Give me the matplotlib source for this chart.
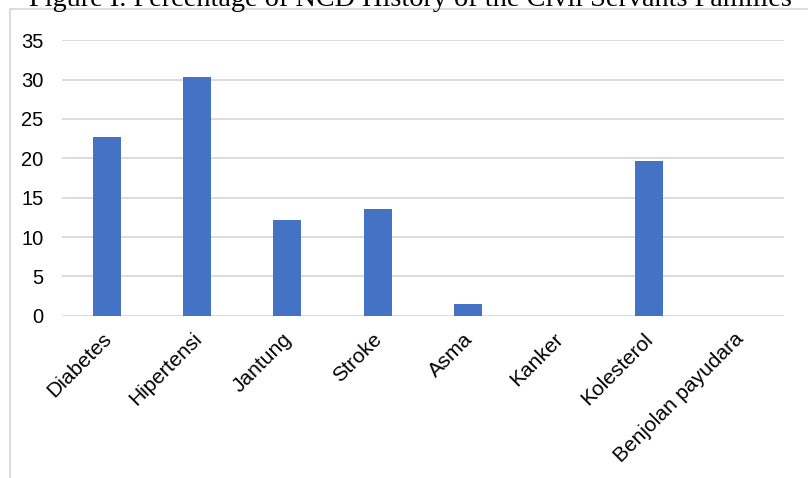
import numpy as np
import matplotlib
matplotlib.use("Agg")
import matplotlib.pyplot as plt
from matplotlib.patches import Rectangle
from matplotlib.transforms import ScaledTranslation

# data
categories = ["Diabetes", "Hipertensi", "Jantung", "Stroke", "Asma",
              "Kanker", "Kolesterol", "Benjolan payudara"]
values = [22.7, 30.3, 12.1, 13.6, 1.5, 0, 19.7, 0]
y_ticks = [0, 5, 10, 15, 20, 25, 30, 35]
title = "Figure I. Percentage of NCD History of the Civil Servants Families"

W, H = 808, 478
fig = plt.figure(figsize=(W / 100, H / 100), dpi=100)
fig.patch.set_facecolor("white")

# outer chart frame, cut off on the right and bottom
fig.patches.append(Rectangle((10 / W, -0.5), 1.5, 1.5 - 9 / H, transform=fig.transFigure,
                             fill=False, edgecolor="#d9d9d9", linewidth=1.3))

fig.text(29 / W, 1 - 6.5 / H, title, family="Liberation Serif", fontsize=20.3,
         ha="left", va="baseline", color="black")

ax = fig.add_axes([61.5 / W, 1 - 315.7 / H, (784 - 61.5) / W, (315.7 - 40.3) / H])
x = np.arange(len(categories))
ax.bar(x, values, width=0.31, color="#4472C4", zorder=3)

ax.set_xlim(-0.5, len(categories) - 0.5)
ax.set_ylim(0, 35)
ax.set_yticks(y_ticks)
ax.set_yticklabels([str(v) for v in y_ticks], family="Liberation Sans", fontsize=14.5)
ax.yaxis.grid(True, color="#d9d9d9", linewidth=1.3, zorder=0)
ax.tick_params(axis="y", length=0, pad=13)
ax.tick_params(axis="x", length=0, pad=10)
for s in ax.spines.values():
    s.set_visible(False)

ax.set_xticks(x)
labels = ax.set_xticklabels(categories, family="Liberation Sans", fontsize=15,
                            rotation=45, ha="right", rotation_mode="anchor")
off = ScaledTranslation(-5 / 100, 0, fig.dpi_scale_trans)
for lb in labels:
    lb.set_transform(lb.get_transform() + off)

fig.savefig("out.png", dpi=100)
